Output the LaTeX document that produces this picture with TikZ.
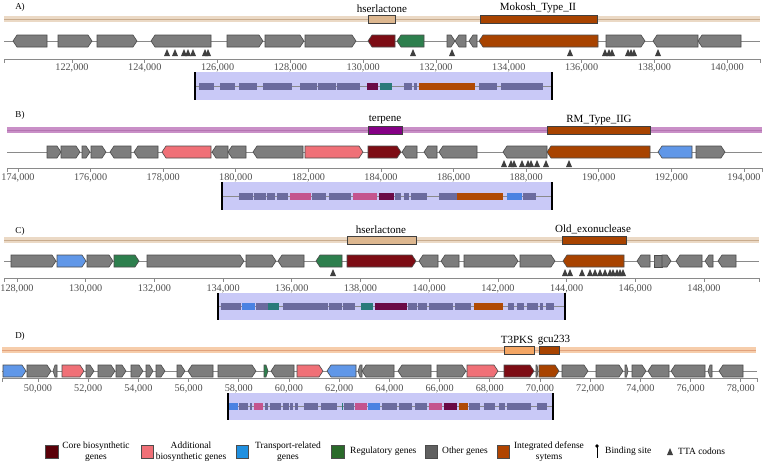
\documentclass[tikz,border=0pt]{standalone}
\usepackage{fontspec}
\setmainfont{Liberation Serif}
\definecolor{og}{HTML}{7D7D7D}
\definecolor{cb}{HTML}{7D0C14}
\definecolor{ab}{HTML}{F07077}
\definecolor{tr}{HTML}{6097E8}
\definecolor{rg}{HTML}{2D7F4D}
\definecolor{df}{HTML}{A84300}
\definecolor{ig}{HTML}{6B6B9E}
\definecolor{icb}{HTML}{6A0A46}
\definecolor{iab}{HTML}{C4548E}
\definecolor{itr}{HTML}{4A82E2}
\definecolor{irg}{HTML}{2A7A7A}
\definecolor{idf}{HTML}{B04A05}
\definecolor{boxc}{HTML}{C9C9F7}
\definecolor{tanband}{HTML}{EBD9C5}
\definecolor{tanline}{HTML}{C9AC8E}
\definecolor{vioband}{HTML}{C98FC7}
\definecolor{violine}{HTML}{B474B1}
\definecolor{pchband}{HTML}{F6CDAB}
\definecolor{pchline}{HTML}{E2A27C}
\definecolor{hsl}{HTML}{DDB78F}
\definecolor{terp}{HTML}{850085}
\definecolor{tpks}{HTML}{F4A664}
\definecolor{axc}{HTML}{8A8A8A}
\definecolor{labc}{HTML}{505050}
\definecolor{ttac}{HTML}{404040}
\definecolor{lcb}{HTML}{5A0008}
\definecolor{ltr}{HTML}{2090E0}
\definecolor{lrg}{HTML}{2A6A2A}
\definecolor{log}{HTML}{606060}
\definecolor{ldf}{HTML}{B04400}
\newcommand\gene[5]{%
  \pgfmathsetmacro\gp{min(4,(#4-#3)/2)}%
  \pgfmathsetmacro\gpr{(#2==1)*\gp}%
  \pgfmathsetmacro\gpl{(#2==-1)*\gp}%
  \filldraw[fill=#5,draw=black!70,line width=0.6]
    ({#3+\gpl},{#1-6}) -- ({#4-\gpr},{#1-6}) -- (#4,#1) -- ({#4-\gpr},{#1+6})
    -- ({#3+\gpl},{#1+6}) -- (#3,#1) -- cycle;}
\newcommand\regbar[5]{%
  \fill[#4] (#2,{#1-3}) rectangle (#3,{#1+3});
  \draw[#5,line width=0.9] (#2,#1) -- (#3,#1);}
\newcommand\regbox[4]{%
  \filldraw[fill=#4,draw=black!75,line width=0.6] (#2,{#1-4}) rectangle (#3,{#1+4});}
\newcommand\clbox[5]{% x1 x2 ytop ybot ymid
  \fill[boxc] (#1,#3) rectangle (#2,#4);
  \draw[axc,line width=0.6] (#1,#5) -- (#2,#5);
  \draw[black,line width=1.6] (#1,#3) -- (#1,#4);
  \draw[black,line width=1.6] (#2,#3) -- (#2,#4);}
\newcommand\tta[2]{\fill[ttac] ({#1-3},{#2+7}) -- ({#1+3},{#2+7}) -- (#1,#2) -- cycle;}
\tikzset{
  lab/.style={font=\fontsize{11}{12}\selectfont,inner sep=0pt},
  tick/.style={font=\fontsize{10.2}{11}\selectfont,text=labc,inner sep=0pt},
  plab/.style={font=\fontsize{9}{10}\selectfont,inner sep=0pt},
  leg/.style={font=\fontsize{9.5}{10.5}\selectfont,inner sep=0pt,align=center},
  legl/.style={font=\fontsize{9.5}{10.5}\selectfont,inner sep=0pt,anchor=west},
  sw/.style={draw=black!70,line width=0.6},
  bb/.style={axc,line width=0.8},
  ax/.style={axc,line width=0.8}
}
\begin{document}
\begin{tikzpicture}[x=1pt,y=-1pt]
\useasboundingbox (0,0) rectangle (764,464);
\fill[white] (0,0) rectangle (764,464);

% ================= Panel A =================
\node[plab] (pA) at (20,7) {A)};
\regbar{19}{4}{760}{tanband}{tanline}
\regbox{19}{368}{395}{hsl}
\regbox{19}{480}{597}{df}
\node[lab] (lA1) at (382,9) {hserlactone};
\node[lab] (lA2) at (538,8) {Mokosh\_Type\_II};
\draw[bb] (4,41) -- (760,41);
\foreach \d/\a/\b/\c in {-1/13/47/og,1/58/92/og,1/97/137/og,-1/151/211/og,1/227/263/og,
  1/265/304/og,1/305/356/og,-1/368/395/cb,-1/397/424/rg,1/447/455/og,-1/455/466/og,
  -1/469/477/og,-1/479/598/df,1/606/645/og,-1/653/698/og,-1/698/741/og}
  {\gene{41}{\d}{\a}{\b}{\c}}
\foreach \x in {167,175,184,188,193,205,208,413,452,570,605,609,612,628,631,634,658}
  {\tta{\x}{49}}
\draw[ax] (4,59) -- (760,59);
\draw[ax] (4,59) -- (4,63); \draw[ax] (760,59) -- (760,63);
\foreach \n [count=\i from 0] in {122,124,...,140}{
  \draw[ax] ({72+\i*72.8},59) -- ({72+\i*72.8},63);
  \node[tick] at ({72+\i*72.8},68) {\n,000};}
\clbox{195}{552}{72}{100}{86}
\foreach \a/\b/\c in {199/214/ig,220/235/ig,239/257/ig,263/292/ig,300/317/ig,318/336/ig,
  337/360/ig,367/378/icb,380/392/irg,404/412/ig,414/417/ig,419/475/idf,479/497/ig,501/543/ig}
  {\fill[\c] (\a,82.5) rectangle (\b,89.5);}

% ================= Panel B =================
\node[plab] (pB) at (20,115) {B)};
\regbar{130}{7}{762}{vioband}{violine}
\regbox{130}{368}{402}{terp}
\regbox{130}{547}{650}{df}
\node[lab] (lB1) at (385,120) {terpene};
\node[lab] (lB2) at (599,120) {RM\_Type\_IIG};
\draw[bb] (7,152) -- (762,152);
\foreach \d/\a/\b/\c in {1/47/61/og,1/61/80/og,1/82/90/og,1/91/106/og,-1/110/131/og,
  -1/134/158/og,-1/162/211/ab,-1/212/228/og,-1/228/246/og,-1/253/303/og,1/305/363/ab,
  1/368/401/cb,-1/402/417/og,-1/424/437/og,-1/439/477/og,-1/503/547/og,-1/547/650/df,
  -1/658/692/tr,1/696/725/og}
  {\gene{152}{\d}{\a}{\b}{\c}}
\foreach \x in {504,511,514,522,528,531,537,546,569}
  {\tta{\x}{160}}
\draw[ax] (7,168) -- (762,168);
\draw[ax] (7,168) -- (7,172); \draw[ax] (762,168) -- (762,172);
\foreach \n [count=\i from 0] in {174,176,...,194}{
  \draw[ax] ({18+\i*72.6},168) -- ({18+\i*72.6},172);
  \node[tick] at ({18+\i*72.6},178) {\n,000};}
\clbox{222}{552}{182}{210}{196}
\foreach \a/\b/\c in {239/253/ig,254/266/ig,267/275/ig,277/288/ig,290/311/iab,312/326/ig,
  329/351/ig,353/377/iab,379/394/icb,395/401/ig,404/409/ig,411/427/ig,439/457/ig,
  457/503/idf,507/522/itr,523/536/ig}
  {\fill[\c] (\a,192.5) rectangle (\b,199.5);}

% ================= Panel C =================
\node[plab] (pC) at (20,231) {C)};
\regbar{240}{4}{759}{tanband}{tanline}
\regbox{240}{347}{416}{hsl}
\regbox{240}{562}{626}{df}
\node[lab] (lC1) at (381,230) {hserlactone};
\node[lab] (lC2) at (593,229) {Old\_exonuclease};
\draw[bb] (4,261) -- (759,261);
\foreach \d/\a/\b/\c in {1/11/56/og,1/57/86/tr,1/87/113/og,1/114/139/rg,1/147/244/og,
  1/246/276/og,-1/278/304/og,-1/316/342/rg,1/347/416/cb,-1/419/438/og,-1/441/459/og,
  1/464/518/og,1/520/555/og,-1/563/624/df,-1/637/650/og,0/654/662/og,1/662/671/og,
  -1/676/702/og,-1/705/713/og,-1/718/736/og}
  {\gene{261}{\d}{\a}{\b}{\c}}
\foreach \x in {333,565,570,582,590,595,600,605,610,613,617,620,623}
  {\tta{\x}{269}}
\draw[ax] (4,278) -- (759,278);
\draw[ax] (4,278) -- (4,282); \draw[ax] (759,278) -- (759,282);
\foreach \n [count=\i from 0] in {128,130,...,148}{
  \draw[ax] ({17+\i*68.7},278) -- ({17+\i*68.7},282);
  \node[tick] at ({17+\i*68.7},289) {\n,000};}
\clbox{218}{565}{293}{320}{306}
\foreach \a/\b/\c in {221/241/ig,242/255/itr,256/268/ig,268/279/irg,283/328/ig,329/342/ig,
  343/355/ig,361/373/irg,375/407/icb,408/417/ig,418/427/ig,429/453/ig,455/471/ig,
  474/503/idf,508/514/ig,517/524/ig,527/538/ig,540/543/ig,546/554/ig}
  {\fill[\c] (\a,302.5) rectangle (\b,309.5);}

% ================= Panel D =================
\node[plab] (pD) at (20,336) {D)};
\regbar{350}{2}{756}{pchband}{pchline}
\regbox{350}{504}{534}{tpks}
\regbox{350}{539}{559}{df}
\node[lab] (lD1) at (517,340) {T3PKS};
\node[lab] (lD2) at (554,340) {gcu233};
\draw[bb] (2,371) -- (757,371);
\foreach \d/\a/\b/\c in {1/3/26/tr,1/27/51/og,-1/53/57/og,1/62/84/ab,1/86/94/og,1/98/115/og,
  1/116/126/og,1/131/143/og,1/146/153/og,1/156/165/og,1/177/185/og,-1/188/213/og,
  1/218/256/og,1/264/268/rg,-1/271/294/og,1/297/323/ab,-1/327/356/tr,-1/358/362/og,
  -1/362/394/og,-1/398/431/og,1/437/466/og,1/467/498/ab,1/504/534/cb,1/536/538/og,
  1/539/559/df,1/562/588/og,1/596/623/og,1/625/628/og,1/632/646/og,-1/648/669/og,
  -1/671/705/og,-1/708/712/og,-1/719/743/og}
  {\gene{371}{\d}{\a}{\b}{\c}}
\draw[ax] (2,378) -- (757,378);
\draw[ax] (2,378) -- (2,382); \draw[ax] (757,378) -- (757,382);
\foreach \n [count=\i from 0] in {50,52,...,78}{
  \draw[ax] ({38+\i*50.2},378) -- ({38+\i*50.2},382);
  \node[tick] at ({38+\i*50.2},389) {\n,000};}
\clbox{228}{553}{393}{420}{406}
\foreach \a/\b/\c in {229/238/itr,239/248/ig,250/252/ig,254/263/iab,265/268/ig,270/281/ig,
  283/289/ig,290/293/ig,295/298/ig,304/318/ig,321/337/ig,342/343/irg,344/354/ig,
  355/367/iab,368/380/itr,382/397/ig,399/412/ig,415/427/ig,429/442/iab,444/457/icb,
  459/468/idf,469/480/ig,484/495/ig,499/505/ig,507/531/ig,537/547/ig}
  {\fill[\c] (\a,402.5) rectangle (\b,409.5);}

% ================= Legend =================
\filldraw[sw,fill=lcb] (45,445) rectangle (58,458);
\node[leg] (L1) at (96,451.5) {Core biosynthetic\\genes};
\filldraw[sw,fill=ab] (141,445) rectangle (153,458);
\node[leg] (L2) at (191,451.5) {Additional\\biosynthetic genes};
\filldraw[sw,fill=ltr] (236,445) rectangle (248,458);
\node[leg] (L3) at (288,451.5) {Transport-related\\genes};
\filldraw[sw,fill=lrg] (331,445) rectangle (344,458);
\node[legl] (L4) at (350,451.5) {Regulatory genes};
\filldraw[sw,fill=log] (425,445) rectangle (437,458);
\node[legl] (L5) at (442,451.5) {Other genes};
\filldraw[sw,fill=ldf] (497,445) rectangle (509,458);
\node[leg] (L6) at (549,451.5) {Integrated defense\\sytems};
\draw[black,line width=0.9] (597,446) -- (597,458);
\fill[black] (597,446) circle (1.8);
\node[legl] (L7) at (605,451.5) {Binding site};
\fill[ttac] (667,455) -- (673,455) -- (670,448) -- cycle;
\node[legl] (L8) at (678,451.5) {TTA codons};
\end{tikzpicture}
\end{document}
